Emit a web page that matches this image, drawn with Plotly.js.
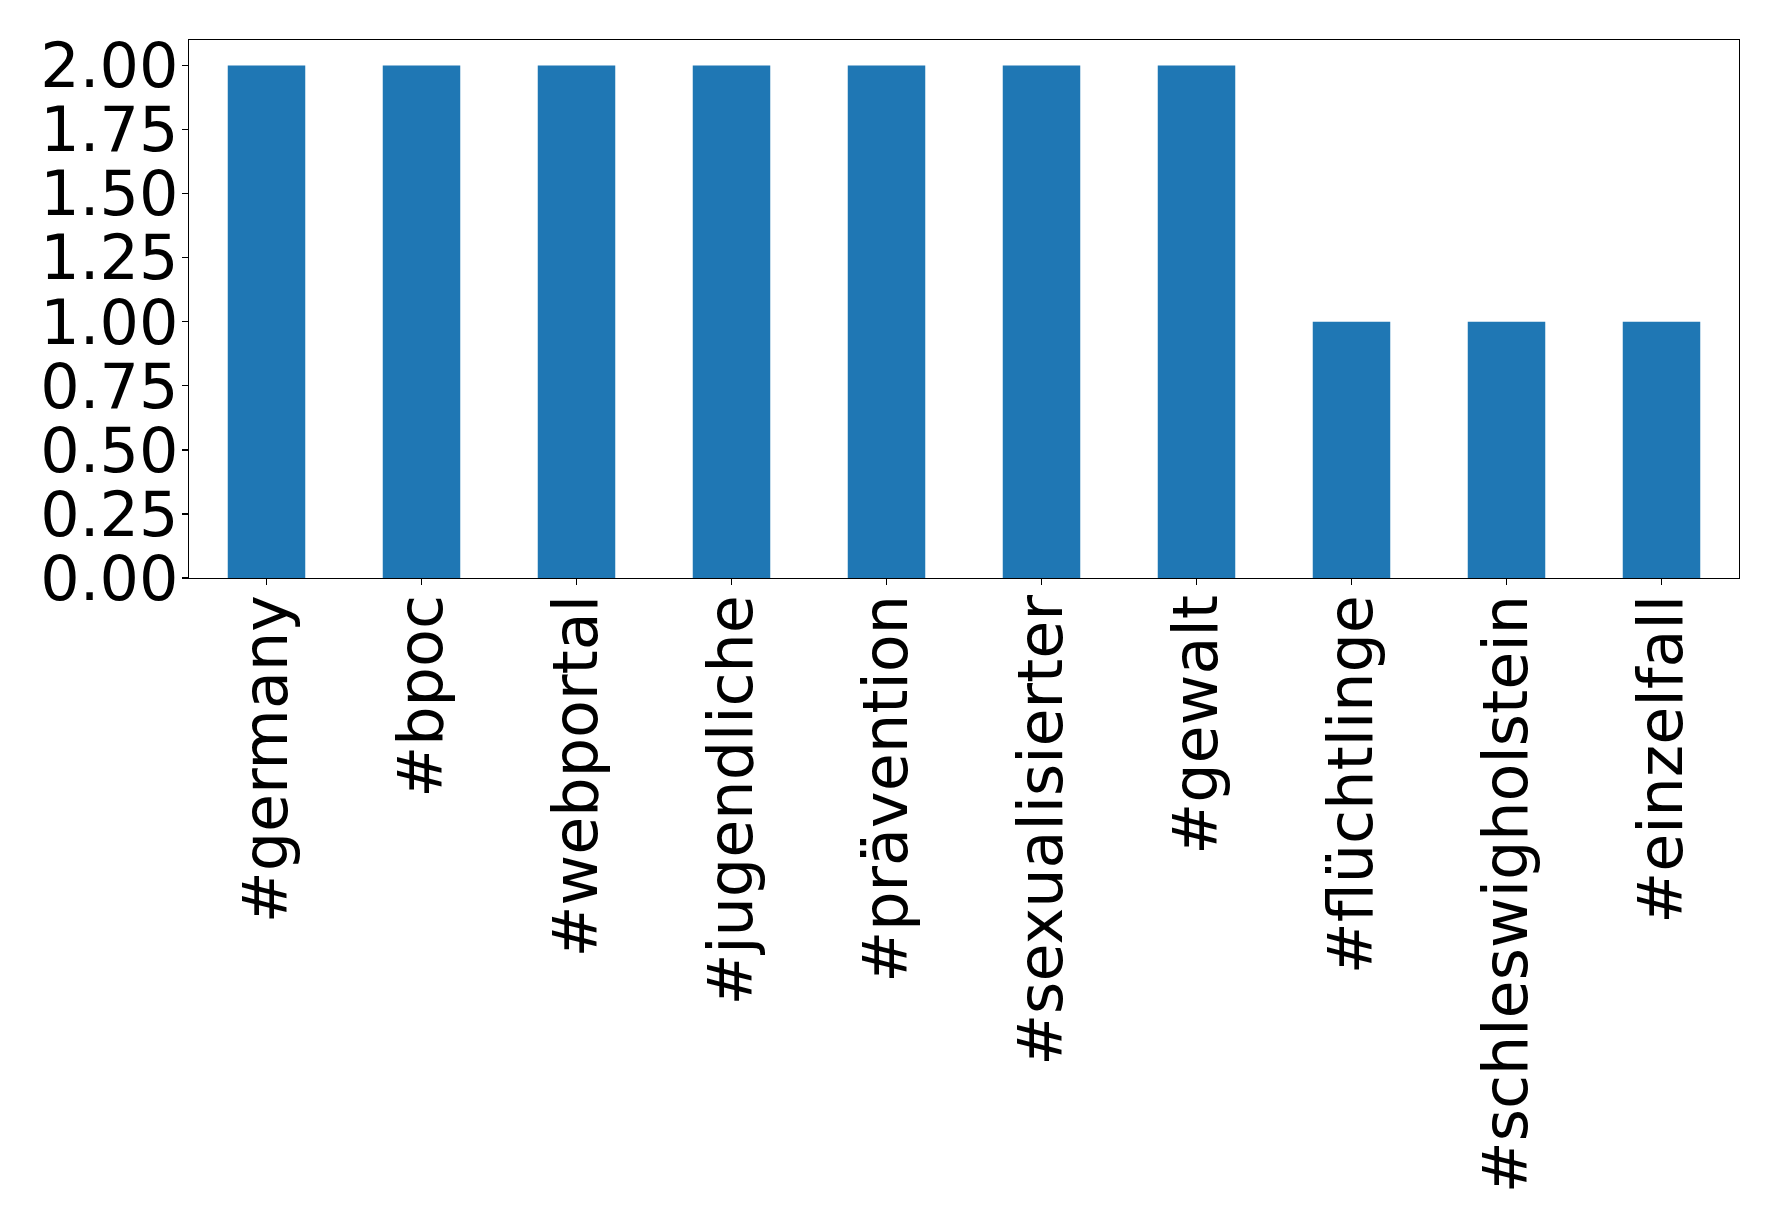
<!DOCTYPE html>
<html>
<head>
<meta charset="utf-8">
<script src="https://cdn.plot.ly/plotly-3.0.1.min.js"></script>
<style>html,body{margin:0;padding:0;background:#fff;}#chart{width:1778px;height:1231px;}</style>
</head>
<body>
<div id="chart"></div>
<script>
const categories = ["#germany", "#bpoc", "#webportal", "#jugendliche", "#prävention", "#sexualisierter", "#gewalt", "#flüchtlinge", "#schleswigholstein", "#einzelfall"];
const counts = [2, 2, 2, 2, 2, 2, 2, 1, 1, 1];
const yTickVals = [0, 0.25, 0.5, 0.75, 1, 1.25, 1.5, 1.75, 2];
const yTickText = ["0.00", "0.25", "0.50", "0.75", "1.00", "1.25", "1.50", "1.75", "2.00"];

const trace = {
  type: "bar",
  x: categories,
  y: counts,
  width: 0.5,
  marker: {color: "#1f77b4", line: {width: 0}},
  hoverinfo: "x+y"
};

const layout = {
  width: 1778,
  height: 1231,
  margin: {l: 189, r: 39, t: 40, b: 653, pad: 0},
  paper_bgcolor: "#ffffff",
  plot_bgcolor: "#ffffff",
  font: {family: "DejaVu Sans", size: 62, color: "#000000"},
  showlegend: false,
  bargap: 0.5,
  xaxis: {
    type: "category",
    range: [-0.5, 9.5],
    showgrid: false,
    zeroline: false,
    showline: true,
    linecolor: "#000000",
    linewidth: 1.2,
    mirror: true,
    ticks: "outside",
    ticklen: 6,
    tickwidth: 1.2,
    tickcolor: "#000000",
    tickangle: -90,
    tickfont: {family: "DejaVu Sans", size: 62, color: "#000000"},
    ticklabelstandoff: -15
  },
  yaxis: {
    range: [0, 2.1],
    showgrid: false,
    zeroline: false,
    showline: true,
    linecolor: "#000000",
    linewidth: 1.2,
    mirror: true,
    ticks: "outside",
    ticklen: 6,
    tickwidth: 1.2,
    tickcolor: "#000000",
    tickmode: "array",
    tickvals: yTickVals,
    ticktext: yTickText,
    tickfont: {family: "DejaVu Sans", size: 62, color: "#000000"},
    ticklabelstandoff: -9
  }
};

Plotly.newPlot("chart", [trace], layout, {staticPlot: true, displayModeBar: false});
</script>
</body>
</html>
